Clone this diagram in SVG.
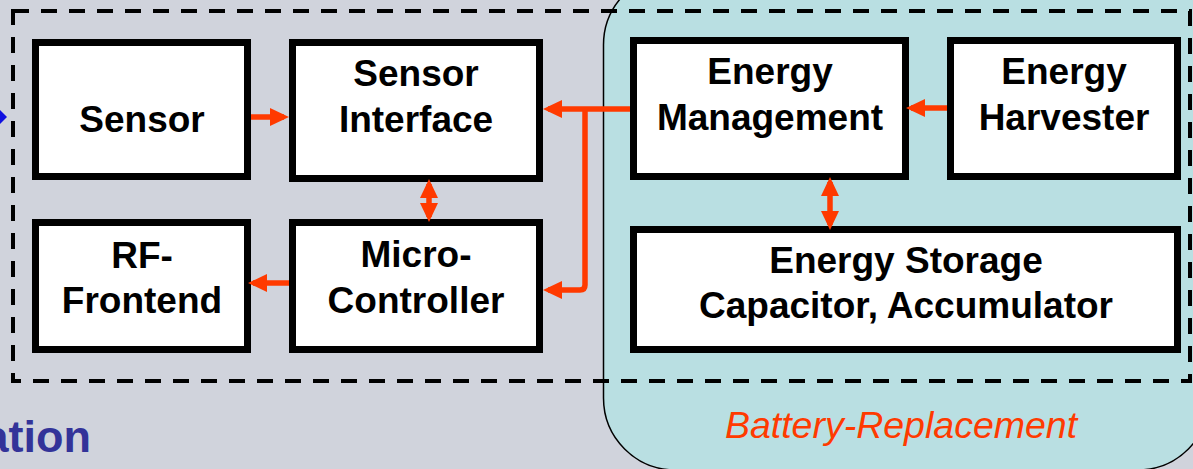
<svg xmlns="http://www.w3.org/2000/svg" width="1193" height="469" viewBox="0 0 1193 469">
<style>
.node rect{fill:#fff;stroke:#000;stroke-width:7}
.lbl{font-family:"Liberation Sans",Arial,sans-serif;font-weight:bold;font-size:37px;fill:#000;text-anchor:middle}
.conn path{fill:none;stroke:#FF3A00;stroke-width:5.5;stroke-linejoin:round}
</style>
<defs>
<marker id="ah" markerUnits="userSpaceOnUse" markerWidth="19" markerHeight="18" refX="14" refY="9" orient="auto-start-reverse">
<path d="M0,0 L19,9 L0,18 z" fill="#FF3A00"/>
</marker>
</defs>
<rect x="0" y="0" width="1193" height="469" fill="#D0D3DC"/>
<g id="battery-replacement">
<rect x="603.5" y="-27" width="606" height="497" rx="72" ry="72" fill="#B9DFE2" stroke="#000" stroke-width="1.5"/>
<text x="901" y="438" font-family="'Liberation Sans',Arial,sans-serif" font-style="italic" font-size="37.5" fill="#FF3A00" text-anchor="middle">Battery-Replacement</text>
</g>
<g id="frame">
<rect x="13" y="11" width="1177" height="370" fill="none" stroke="#000" stroke-width="4" stroke-dasharray="16 12"/>
</g>
<g id="ext-arrow">
<polygon points="0,110 7,117 0,124" fill="#1010E0"/>
</g>
<text x="91" y="452" font-family="'Liberation Sans',Arial,sans-serif" font-weight="bold" font-size="45" fill="#333399" text-anchor="end">ation</text>
<g id="sensor" class="node">
<rect x="35.5" y="42.5" width="212" height="134"/>
<text class="lbl" x="142" y="132">Sensor</text>
</g>
<g id="sensor-interface" class="node">
<rect x="292.5" y="42.5" width="247" height="136"/>
<text class="lbl" x="416" y="86">Sensor</text>
<text class="lbl" x="416" y="132">Interface</text>
</g>
<g id="rf-frontend" class="node">
<rect x="35.5" y="222.5" width="212" height="127"/>
<text class="lbl" x="142" y="268">RF-</text>
<text class="lbl" x="142" y="313">Frontend</text>
</g>
<g id="micro-controller" class="node">
<rect x="292.5" y="222.5" width="247" height="127"/>
<text class="lbl" x="416" y="267">Micro-</text>
<text class="lbl" x="416" y="313">Controller</text>
</g>
<g id="energy-management" class="node">
<rect x="633.5" y="40.5" width="272" height="136"/>
<text class="lbl" x="770" y="84">Energy</text>
<text class="lbl" x="770" y="130">Management</text>
</g>
<g id="energy-harvester" class="node">
<rect x="950.5" y="40.5" width="227" height="136"/>
<text class="lbl" x="1064" y="84">Energy</text>
<text class="lbl" x="1064" y="130">Harvester</text>
</g>
<g id="energy-storage" class="node">
<rect x="633.5" y="229.5" width="544" height="120"/>
<text class="lbl" x="906" y="273">Energy Storage</text>
<text class="lbl" x="906" y="318">Capacitor, Accumulator</text>
</g>
<g id="connectors" class="conn">
<path d="M251,117 H284" marker-end="url(#ah)"/>
<path d="M630,109 H548" marker-end="url(#ah)"/>
<path d="M585,109 V285 Q585,290 580,290 H548" marker-end="url(#ah)"/>
<path d="M429,184 V217" marker-start="url(#ah)" marker-end="url(#ah)"/>
<path d="M289,283 H253" marker-end="url(#ah)"/>
<path d="M947,108 H911" marker-end="url(#ah)"/>
<path d="M830,182 V225" marker-start="url(#ah)" marker-end="url(#ah)"/>
</g>
</svg>
